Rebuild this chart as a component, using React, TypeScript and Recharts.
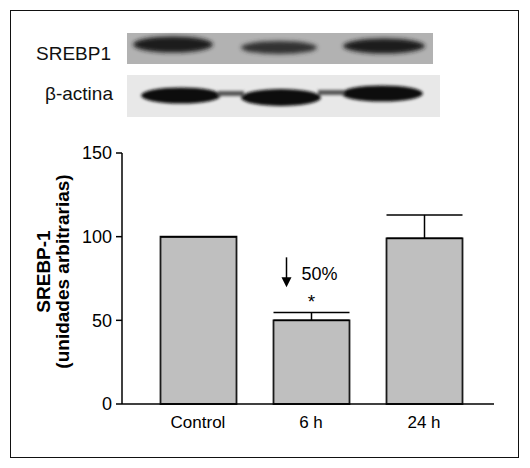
import React from 'react';
import { BarChart, Bar, XAxis, YAxis, ErrorBar, LabelList } from 'recharts';

const categories = ['Control', '6 h', '24 h'];
const means = [100, 50, 99];
const errUp = [0, 4.7, 14];
const yTicks = [0, 50, 100, 150];
const blotLabels = ['SREBP1', 'β-actina'];

const data = categories.map((c, i) => ({ name: c, value: means[i], err: [0, errUp[i]] }));

const FONT = '"Liberation Sans", Arial, Helvetica, sans-serif';

const YLabel = (props: any) => {
  const vb = props.viewBox || { x: 2, y: 153, width: 120, height: 251 };
  const right = vb.x + vb.width;
  const cy = vb.y + vb.height / 2 - 7;
  const x1 = right - 72;
  const x2 = right - 53;
  return (
    <g fontFamily={FONT} fontWeight="bold" fontSize={19} fill="#000">
      <text x={x1} y={cy} textAnchor="middle" transform={`rotate(-90, ${x1}, ${cy})`}>SREBP-1</text>
      <text x={x2} y={cy} textAnchor="middle" transform={`rotate(-90, ${x2}, ${cy})`}>(unidades arbitrarias)</text>
    </g>
  );
};

const Annot = (props: any) => {
  const { x, y, width, index } = props;
  if (index !== 1) return null;
  const ax = x + 13;
  const cx = x + width / 2;
  return (
    <g fontFamily={FONT}>
      <line x1={ax} y1={y - 63} x2={ax} y2={y - 42} stroke="#000" strokeWidth={1.5} />
      <polygon points={`${ax - 5},${y - 43} ${ax + 5},${y - 43} ${ax},${y - 33}`} fill="#000" />
      <text x={x + 28} y={y - 40} fontSize={18} fill="#000">50%</text>
      <text x={cx} y={y - 12} fontSize={19} fill="#000" textAnchor="middle">*</text>
    </g>
  );
};

const Blots = () => (
  <svg width={530} height={468} style={{ position: 'absolute', left: 0, top: 0 }}>
    <defs>
      <filter id="bl1" x="-20%" y="-50%" width="140%" height="200%">
        <feGaussianBlur stdDeviation="2.2" />
      </filter>
      <filter id="bl2" x="-20%" y="-50%" width="140%" height="200%">
        <feGaussianBlur stdDeviation="1.4" />
      </filter>
    </defs>
    <rect x={10.5} y={10.5} width={508} height={447} fill="#fff" stroke="#111" strokeWidth={1} />
    <text x={36} y={60} fontFamily={FONT} fontSize={19} fill="#111">{blotLabels[0]}</text>
    <text x={45} y={100} fontFamily={FONT} fontSize={19} fill="#111">{blotLabels[1]}</text>
    <rect x={127} y={33} width={306} height={31} fill="#b2b2b2" />
    <g filter="url(#bl1)" fill="#1e1e1e">
      <ellipse cx={173} cy={44.5} rx={40} ry={8} />
      <ellipse cx={279} cy={47.5} rx={38} ry={6.5} fill="#333" />
      <ellipse cx={384} cy={46} rx={41} ry={7.5} />
    </g>
    <rect x={127} y={75} width={313} height={42} fill="#e8e8e8" />
    <g filter="url(#bl2)" fill="#111">
      <ellipse cx={181} cy={95.5} rx={40} ry={8} />
      <ellipse cx={281} cy={97.5} rx={40} ry={8.5} />
      <ellipse cx={382} cy={93.5} rx={41} ry={8} />
      <rect x={218} y={91} width={26} height={5} fill="#555" />
      <rect x={318} y={90} width={26} height={5} fill="#555" />
    </g>
  </svg>
);

export default function App() {
  return (
    <div style={{ position: 'absolute', left: 0, top: 0, width: 530, height: 468, background: '#fff' }}>
      <Blots />
      <div style={{ position: 'absolute', left: 0, top: 0 }}>
        <BarChart
          width={530}
          height={468}
          data={data}
          margin={{ top: 153, right: 36, bottom: 34, left: 2 }}
        >
          <XAxis
            dataKey="name"
            height={30}
            padding={{ left: 19.5, right: 13.5 }}
            axisLine={{ stroke: '#000', strokeWidth: 1.5 }}
            tickLine={false}
            tickSize={6}
            tickMargin={6}
            tick={{ fill: '#000', fontSize: 17, fontFamily: FONT }}
          />
          <YAxis
            width={120}
            domain={[0, 150]}
            ticks={yTicks}
            axisLine={{ stroke: '#000', strokeWidth: 1.5 }}
            tickLine={{ stroke: '#000', strokeWidth: 1.5 }}
            tickSize={6}
            tickMargin={4}
            tick={{ fill: '#000', fontSize: 18, fontFamily: FONT }}
            label={<YLabel />}
          />
          <Bar dataKey="value" fill="#bfbfbf" stroke="#1a1a1a" strokeWidth={1.8} barSize={76} isAnimationActive={false}>
            <ErrorBar dataKey="err" width={38} stroke="#000" strokeWidth={1.5} direction="y" />
            <LabelList dataKey="value" content={<Annot />} />
          </Bar>
        </BarChart>
      </div>
    </div>
  );
}
